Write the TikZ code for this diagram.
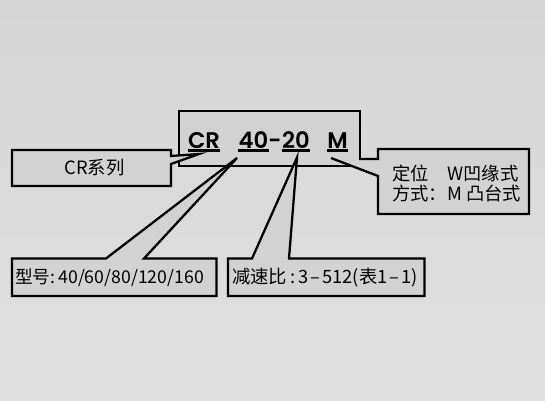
\documentclass[tikz,border=0pt]{standalone}
\usepackage{fontspec}
\setmainfont{Noto Sans CJK SC}
\newfontfamily\codefont{Poppins SemiBold}
\usetikzlibrary{calc}

\definecolor{boxgray}{HTML}{D2D2D2}
\definecolor{bgtop}{HTML}{D5D5D5}
\definecolor{bgmid}{HTML}{EEEEEE}
\definecolor{bgbot}{HTML}{E0E0E0}

\tikzstyle{callout} = [fill=boxgray, draw=black, line width=1.7pt, line join=miter]
\tikzstyle{outline} = [draw=black, line width=1.7pt, line join=miter]
\tikzstyle{tag} = [inner sep=0pt, font=\fontsize{13.75}{15}\selectfont]
\tikzstyle{code} = [inner sep=0pt, anchor=base, font=\codefont\fontsize{17}{20}\selectfont]

\begin{document}
\begin{tikzpicture}[x=0.75pt, y=-0.75pt]
  \shade[top color=bgtop, middle color=bgmid, bottom color=bgbot] (0,0) rectangle (545,400);
  \useasboundingbox (0,0) rectangle (545,400);

  % model code box
  \draw[callout] (179,111) rectangle (360,166);

  \coordinate (tipcr) at (199,154);
  \coordinate (tipsz) at (237,158);
  \coordinate (tiprt) at (297,157.5);
  \coordinate (tipmt) at (331,158);

  % callouts
  \draw[callout] (12,150) -- (171,150) -- (171,156) -- (tipcr) -- (171,164) -- (171,186) -- (12,186) -- cycle;
  \fill[boxgray] (tipmt) -- (378,159) -- (378,149) -- (529,149) -- (529,214) -- (378,214) -- (378,176) -- cycle;
  \draw[outline] (359,159) -- (378,159) -- (378,149) -- (529,149) -- (529,214) -- (378,214) -- (378,176) -- (tipmt);
  \draw[callout] (12,258.5) -- (106,258.5) -- (tipsz) -- (144,258.5) -- (216.5,258.5) -- (216.5,296) -- (12,296) -- cycle;
  \draw[callout] (228,258.5) -- (252,258.5) -- (tiprt) -- (289,258.5) -- (424.5,258.5) -- (424.5,296) -- (228,296) -- cycle;

  \node[code] (cr) at (204,148) {CR};
  \node[code] (sz) at (253.5,148) {40};
  \node[code] (dash) at (275,148) {-};
  \node[code] (rt) at (296,148) {20};
  \node[code] (mt) at (337.5,148) {M};
  \foreach \n in {cr,sz,rt,mt}
    \draw[line width=1.6pt] ($(\n.base west)+(0,2.5)$) -- ($(\n.base east)+(0,2.5)$);

  \node[tag] (series) at (94.5,168) {CR系列};
  \node[tag, anchor=west, font=\fontsize{13.25}{15}\selectfont] (model) at (15,277.5) {型号:\,40/60/80/120/160};
  \node[tag, anchor=west] (ratio) at (232,277.5) {减速比\,:\,3\kern1.5pt–\kern1.5pt512(表1\kern1.5pt–\kern1.5pt1)};
  \node[tag, anchor=west, align=left] (mount) at (392,183) {定位　W凹缘式\\方式：M 凸台式};
\end{tikzpicture}
\end{document}
